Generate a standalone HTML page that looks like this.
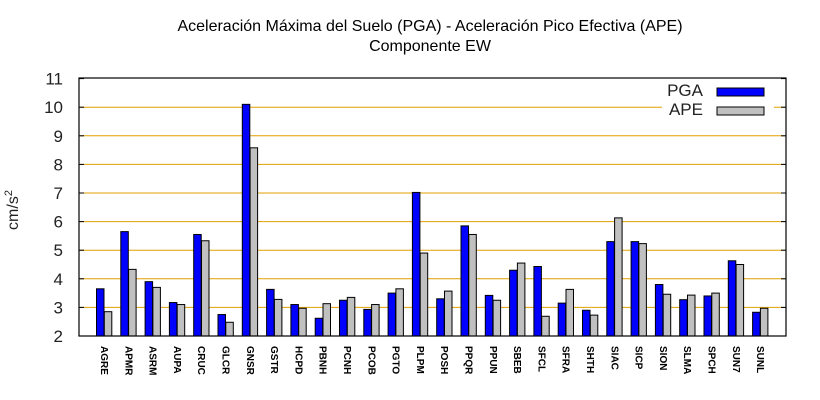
<!DOCTYPE html>
<html><head><meta charset="utf-8"><style>
html,body{margin:0;padding:0;background:#fff;}
svg{display:block;font-family:"Liberation Sans",sans-serif;}
</style></head><body>
<svg id="s" width="820" height="400" xmlns="http://www.w3.org/2000/svg">
<rect width="820" height="400" fill="#fff"/>
<text x="430" y="31" font-size="16" text-anchor="middle">Aceleración Máxima del Suelo (PGA) -  Aceleración Pico Efectiva (APE)</text>
<text x="430" y="51" font-size="16" text-anchor="middle">Componente EW</text>
<text transform="translate(18,210) rotate(-90)" font-size="16" text-anchor="middle" fill="#222">cm/s<tspan font-size="11" dy="-6">2</tspan></text>
<g id="grid"></g>
<g id="bars"></g>
<rect x="79" y="78" width="707" height="258" fill="none" stroke="#000" stroke-width="1.2"/>
<g id="labels" font-size="10" font-weight="bold"></g>
<rect x="662" y="80" width="112" height="40" fill="#fff"/>
<text x="703" y="96" font-size="17" text-anchor="end" fill="#222">PGA</text>
<rect x="717" y="88" width="47" height="8" fill="#0000ff" stroke="#000"/>
<text x="703" y="115" font-size="17" text-anchor="end" fill="#222">APE</text>
<rect x="717" y="107" width="47" height="8" fill="#c0c0c0" stroke="#000"/>
</svg>
<script>
var ns="http://www.w3.org/2000/svg";
function el(p,t,a,txt){var e=document.createElementNS(ns,t);for(var k in a)e.setAttribute(k,a[k]);if(txt)e.textContent=txt;p.appendChild(e);return e;}
function Y(v){return 336-(v-2)*28.6;}
var g=document.getElementById('grid');
for(var v=2;v<=11;v++){var y=Y(v);
 if(v>2&&v<11)el(g,'line',{x1:80,x2:785,y1:y,y2:y,stroke:'#e0a000','stroke-width':1});
 el(g,'line',{x1:79,x2:84,y1:y,y2:y,stroke:'#000'});
 el(g,'line',{x1:781,x2:786,y1:y,y2:y,stroke:'#000'});
 el(g,'text',{x:63,y:y+6,'font-size':17,'text-anchor':'end',fill:'#222'},String(v));}
var d=[["AGRE",3.65,2.85],["APMR",5.65,4.33],["ASRM",3.9,3.7],["AUPA",3.17,3.1],["CRUC",5.55,5.33],["GLCR",2.75,2.48],["GNSR",10.1,8.58],["GSTR",3.63,3.28],["HCPD",3.1,2.97],["PBNH",2.62,3.13],["PCNH",3.25,3.35],["PCOB",2.93,3.1],["PGTO",3.5,3.65],["PLPM",7.02,4.9],["POSH",3.3,3.57],["PPQR",5.85,5.55],["PPUN",3.42,3.25],["SBEB",4.3,4.55],["SFCL",4.43,2.69],["SFRA",3.15,3.63],["SHTH",2.9,2.73],["SIAC",5.3,6.13],["SICP",5.3,5.23],["SION",3.8,3.46],["SLMA",3.27,3.43],["SPCH",3.4,3.5],["SUN7",4.63,4.5],["SUNL",2.83,2.97]];
var b=document.getElementById('bars'),l=document.getElementById('labels');
d.forEach(function(r,i){var x=96.5+i*24.3;
 el(b,'rect',{x:x,y:Y(r[1]),width:7.5,height:336-Y(r[1]),fill:'#0000ff',stroke:'#000','stroke-width':1});
 el(b,'rect',{x:x+7.8,y:Y(r[2]),width:7.5,height:336-Y(r[2]),fill:'#c0c0c0',stroke:'#000','stroke-width':1});
 el(l,'text',{transform:'translate('+(x+4.5)+',346) rotate(90)'},r[0]);});
</script>
</body></html>
